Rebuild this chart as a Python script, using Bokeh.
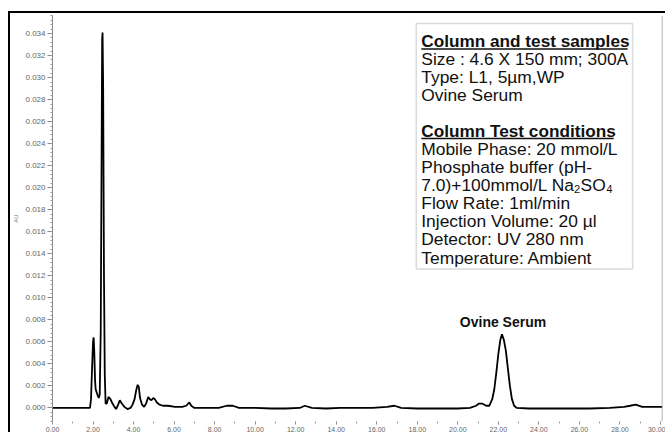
from bokeh.plotting import figure
from bokeh.models import Range1d, Label, BoxAnnotation, Span, SingleIntervalTicker, CustomJSTickFormatter
from bokeh.embed import file_html
from bokeh.resources import INLINE

# ---- data (time in min, absorbance in AU) ----
time_min = [0.00, 1.85, 1.90, 1.95, 2.00, 2.03, 2.06, 2.10, 2.13, 2.20, 2.28, 2.33,
            2.38, 2.42, 2.45, 2.47, 2.50, 2.54, 2.58, 2.62, 2.68, 2.76, 2.86, 2.96,
            3.06, 3.14, 3.24, 3.32, 3.42, 3.55, 3.70, 3.85, 3.95, 4.05, 4.13, 4.20,
            4.26, 4.32, 4.42, 4.52, 4.62, 4.72, 4.80, 4.88, 4.97, 5.05, 5.15, 5.28,
            5.45, 5.70, 6.05, 6.40, 6.60, 6.75, 6.85, 7.00, 7.50, 8.20, 8.60, 8.90,
            9.20, 10.0, 10.8, 11.5, 12.2, 12.45, 12.8, 13.5, 14.2, 15.0, 15.8, 16.5,
            16.87, 17.2, 18.0, 19.0, 20.0, 20.6, 20.9, 21.05, 21.2, 21.4, 21.55, 21.7,
            21.8, 21.9, 22.0, 22.1, 22.18, 22.27, 22.37, 22.47, 22.57, 22.67, 22.78,
            22.9, 23.5, 24.5, 25.5, 26.5, 27.5, 28.2, 28.5, 28.78, 29.1, 29.5, 30.1]
absorbance = [0.0000, 0.0000, 0.0008, 0.0035, 0.0060, 0.0064, 0.0052, 0.0025, 0.0017, 0.0013, 0.0009, 0.0012,
              0.0070, 0.0220, 0.0335, 0.0341, 0.0290, 0.0120, 0.0030, 0.0004, 0.0004, 0.0010, 0.0008, 0.0004,
              0.0001, -0.0001, 0.0003, 0.0007, 0.0004, 0.0001, -0.0001, 0.0000, 0.0003, 0.0008, 0.0016, 0.0021,
              0.0019, 0.0009, 0.0003, 0.0001, 0.0004, 0.0010, 0.0008, 0.0007, 0.0009, 0.0008, 0.0005, 0.0003,
              0.0002, 0.0002, 0.0001, 0.0001, 0.0002, 0.0005, 0.0002, 0.0000, 0.0000, 0.0000, 0.0002, 0.0002,
              0.0000, 0.0000, -0.00005, -0.00005, 0.0000, 0.0002, 0.0000, -0.00005, 0.0000, 0.0000, 0.0000, 0.0001,
              0.0002, 0.0000, -0.00005, -0.00005, -0.00005, 0.0000, 0.0002, 0.0004, 0.0004, 0.0002, 0.0002, 0.0008,
              0.0017, 0.0032, 0.0049, 0.0062, 0.0067, 0.0062, 0.0052, 0.0036, 0.0020, 0.0008, 0.0002,
              0.0000, -0.00005, -0.00005, -0.00005, -0.00005, 0.0000, 0.0001, 0.0002, 0.0003, 0.0001, 0.0001, 0.0001]

peak_name = "Ovine Serum"
peak_time = 22.18
peak_height = 0.0067

box_lines = [
    ("Column and test samples", "bold"),
    ("Size : 4.6 X 150 mm; 300A", "normal"),
    ("Type: L1, 5µm,WP", "normal"),
    ("Ovine Serum", "normal"),
    ("", "normal"),
    ("Column Test conditions", "bold"),
    ("Mobile Phase:  20 mmol/L", "normal"),
    ("Phosphate buffer (pH-", "normal"),
    ("7.0)+100mmol/L Na\u2082SO\u2084", "normal"),
    ("Flow Rate: 1ml/min", "normal"),
    ("Injection Volume: 20 µl", "normal"),
    ("Detector: UV 280 nm", "normal"),
    ("Temperature:  Ambient", "normal"),
]

X0, X1 = 0.0, 30.1
Y0, Y1 = -0.00123, 0.03564

p = figure(width=657, height=421, output_backend="svg", toolbar_location=None,
           x_range=Range1d(X0, X1), y_range=Range1d(Y0, Y1),
           min_border_left=38, min_border_right=5, min_border_top=2, min_border_bottom=8,
           background_fill_color="white", border_fill_color="white")
p.margin = (11, 0, 0, 8)
p.styles = {"border-left": "2px solid black", "border-top": "2px solid black"}
p.outline_line_color = None
p.grid.visible = False

# pixel helpers (frame spans page x 50..662, y 15..420)
def tx(px):
    return X0 + (px - 50) * (X1 - X0) / 612.0

def vy(py):
    return Y1 - (py - 15) * (Y1 - Y0) / 405.0

# axes
xa = p.xaxis[0]
xa.ticker = SingleIntervalTicker(interval=2, num_minor_ticks=2)
xa.formatter = CustomJSTickFormatter(code="return tick.toFixed(2);")
xa.axis_line_color = None
xa.major_tick_line_color = "#888888"
xa.minor_tick_line_color = "#999999"
xa.major_tick_out = 3
xa.major_tick_in = 0
xa.minor_tick_out = 2
xa.minor_tick_in = 0
xa.major_label_text_font = "Liberation Sans"
xa.major_label_text_font_size = "7px"
xa.major_label_text_color = "#666666"
xa.major_label_standoff = 2

ya = p.yaxis[0]
ya.ticker = SingleIntervalTicker(interval=0.002, num_minor_ticks=5)
ya.formatter = CustomJSTickFormatter(code="return tick.toFixed(3);")
ya.axis_line_color = "#888888"
ya.major_tick_line_color = "#888888"
ya.minor_tick_line_color = "#999999"
ya.major_tick_out = 5
ya.major_tick_in = 0
ya.minor_tick_out = 2
ya.minor_tick_in = 0
ya.major_label_text_font = "Liberation Sans"
ya.major_label_text_font_size = "8px"
ya.major_label_text_color = "#666666"
ya.major_label_standoff = 2
ya.axis_label = "AU"
ya.axis_label_text_font = "Liberation Sans"
ya.axis_label_text_font_size = "6px"
ya.axis_label_text_font_style = "normal"
ya.axis_label_text_color = "#777777"
ya.axis_label_standoff = 3

# right edge of the frame
p.add_layout(Span(location=X1, dimension="height", line_color="#999999", line_width=1.5))

# trace
p.line(time_min, absorbance, line_color="black", line_width=1.8)

# peak label
p.add_layout(Label(x=peak_time, y=peak_height, text=peak_name, text_align="center",
                   text_baseline="bottom", y_offset=4, x_offset=1,
                   text_font="Liberation Sans", text_font_size="14px", text_font_style="bold",
                   text_color="#111111"))

# info box
p.add_layout(BoxAnnotation(left=tx(415), right=tx(632), top=vy(23), bottom=vy(268), level="underlay",
                           fill_color="white", fill_alpha=1.0, line_color="#888888", line_width=1.5))
line_y = [40.7, 58.5, 76.5, 94.3, 112.2, 130.2, 148.3, 166.2, 184.2, 202.0, 220.0, 238.3, 256.5]
for (txt, style), py in zip(box_lines, line_y):
    if not txt:
        continue
    p.add_layout(Label(x=tx(420), y=vy(py), text=txt, text_align="left", text_baseline="middle",
                       text_font="Liberation Sans",
                       text_font_size="17.2px" if style == "bold" else "17.4px",
                       text_font_style=style, text_color="#111111"))
# underlines of the two headings
ul = p.segment(x0=[tx(420), tx(420)], y0=[vy(48.3), vy(137.8)], x1=[tx(627), tx(613)], y1=[vy(48.3), vy(137.8)],
               line_color="#111111", line_width=1.5)
ul.level = "overlay"

open("out.html", "w").write(file_html(p, INLINE))
